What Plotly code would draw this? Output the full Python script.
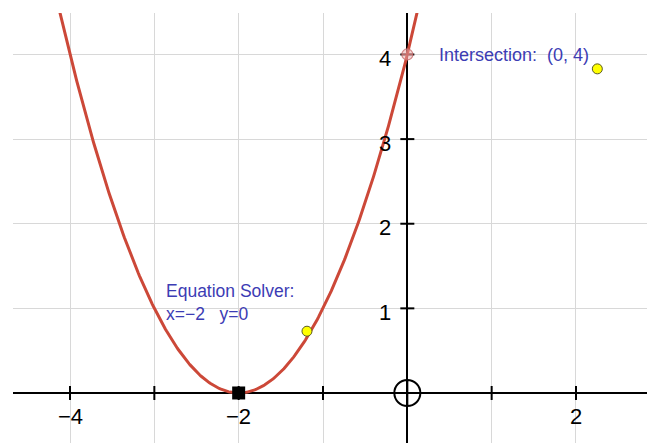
import numpy as np
import plotly.graph_objects as go

# Parabola y = a*(x - h)^2 + k
a_coef, h_coef, k_coef = 1.0, -2.0, 0.0
x_range = [-4.676, 2.842]
y_range = [-0.591, 4.49]

x_tick_vals = [-4, -3, -2, -1, 1, 2]
x_label_vals = [-4, -2, 2]
x_label_text = ["\u22124", "\u22122", "2"]
y_tick_vals = [1, 2, 3, 4]
y_label_text = ["1", "2", "3", "4"]

root_pt = (-2, 0)
intersection_pt = (0, 4)
free_pts_x = [-1.19, 2.253]
free_pts_y = [0.73, 3.83]
origin_pt = (0, 0)

curve_x = np.linspace(-4.8, 0.3, 400)
curve_y = a_coef * (curve_x - h_coef) ** 2 + k_coef

fig = go.Figure()

# tick marks
fig.add_trace(go.Scatter(x=x_tick_vals, y=[0] * len(x_tick_vals), mode="markers",
                         marker=dict(symbol="line-ns", size=10, line=dict(color="black", width=2)),
                         hoverinfo="skip"))
fig.add_trace(go.Scatter(x=[0] * len(y_tick_vals), y=y_tick_vals, mode="markers",
                         marker=dict(symbol="line-ew", size=10, line=dict(color="black", width=2)),
                         hoverinfo="skip"))

fig.add_trace(go.Scatter(x=curve_x, y=curve_y, mode="lines",
                         line=dict(color="rgb(204,72,56)", width=3), hoverinfo="skip"))

fig.add_trace(go.Scatter(x=[origin_pt[0]], y=[origin_pt[1]], mode="markers",
                         marker=dict(symbol="circle-cross-open", size=26,
                                     line=dict(color="black", width=2), color="black")))

fig.add_trace(go.Scatter(x=[intersection_pt[0]], y=[intersection_pt[1]], mode="markers",
                         marker=dict(symbol="circle-cross", size=11, color="rgba(235,170,170,0.5)",
                                     line=dict(color="rgba(200,110,110,0.8)", width=1.2))))

fig.add_trace(go.Scatter(x=[root_pt[0]], y=[root_pt[1]], mode="markers",
                         marker=dict(symbol="square", size=13, color="black")))

fig.add_trace(go.Scatter(x=free_pts_x, y=free_pts_y, mode="markers",
                         marker=dict(symbol="circle", size=10, color="rgb(255,255,0)",
                                     line=dict(color="rgb(90,90,40)", width=1))))

annotations = []
for v, t in zip(x_label_vals, x_label_text):
    annotations.append(dict(x=v, y=0, xref="x", yref="y", text=t, showarrow=False,
                            xanchor="center", yanchor="middle", yshift=-24,
                            font=dict(family="Liberation Sans, Arial", size=22, color="black")))
for v, t in zip(y_tick_vals, y_label_text):
    annotations.append(dict(x=0, y=v, xref="x", yref="y", text=t, showarrow=False,
                            xanchor="right", yanchor="middle", xshift=-14, yshift=-4,
                            font=dict(family="Liberation Sans, Arial", size=22, color="black")))

blue = "rgb(60,60,180)"
annotations.append(dict(x=intersection_pt[0], y=intersection_pt[1], xref="x", yref="y",
                        text="Intersection:\u00a0\u00a0(0, 4)", showarrow=False,
                        xanchor="left", yanchor="middle", xshift=30, yshift=-1,
                        font=dict(family="Liberation Sans, Arial", size=18, color=blue)))
annotations.append(dict(x=root_pt[0], y=root_pt[1], xref="x", yref="y",
                        text="Equation Solver:", showarrow=False,
                        xanchor="left", yanchor="middle", xshift=-75, yshift=102,
                        font=dict(family="Liberation Sans, Arial", size=17.5, color=blue)))
annotations.append(dict(x=root_pt[0], y=root_pt[1], xref="x", yref="y",
                        text="x=\u22122\u00a0\u00a0\u00a0y=0", showarrow=False,
                        xanchor="left", yanchor="middle", xshift=-75, yshift=79,
                        font=dict(family="Liberation Sans, Arial", size=17.5, color=blue)))

axis_common = dict(showgrid=True, gridcolor="rgb(216,216,216)", gridwidth=1, dtick=1,
                   showticklabels=False, ticks="", zeroline=True, zerolinecolor="black",
                   zerolinewidth=2, showline=False, fixedrange=True)

fig.update_layout(
    width=647, height=443,
    margin=dict(l=13, r=0, t=13, b=0),
    plot_bgcolor="white", paper_bgcolor="white",
    showlegend=False,
    hovermode=False,
    xaxis=dict(range=x_range, tick0=0, **axis_common),
    yaxis=dict(range=y_range, tick0=0, **axis_common),
    annotations=annotations,
)

fig.write_html("out.html",
               config={"displayModeBar": False},
               post_script="document.body.style.margin='0';document.body.style.overflow='hidden';")
